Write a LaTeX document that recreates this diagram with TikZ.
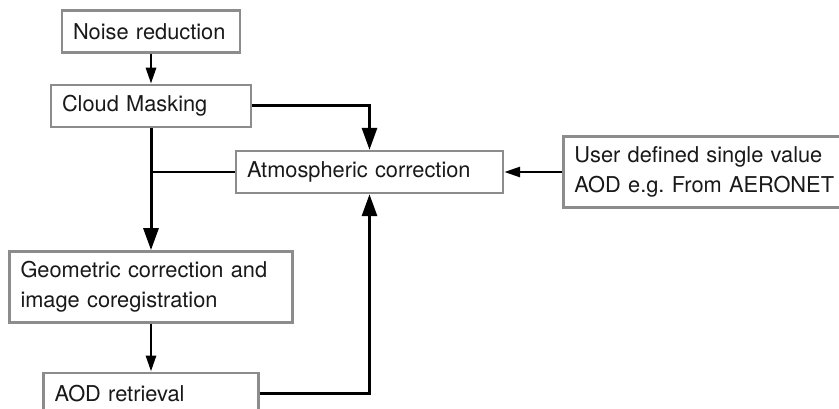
\documentclass[tikz,border=0pt]{standalone}
\usepackage{fontspec}
\setmainfont{TeX Gyre Heros}
\usetikzlibrary{arrows.meta,positioning}
\frenchspacing

\begin{document}
\begin{tikzpicture}[x=0.5pt,y=0.5pt,font=\fontsize{10.9}{15}\selectfont,
 caja/.style={draw=black!45,line width=1.2pt,fill=white,text=black!90,align=left,inner xsep=5.5pt,inner ysep=5pt,minimum height=21pt},
 flecha/.style={-{Triangle[length=8pt,width=5pt]},line width=1.4pt},
 flechalarga/.style={-{Triangle[length=11pt,width=7.5pt]},line width=1.5pt}]
\useasboundingbox (0,0) rectangle (839,-408);
\node[caja,text width=78pt] (ruido) at (151,-31.5) {Noise reduction};
\node[caja,text width=89pt,below=15pt of ruido] (nubes) {Cloud Masking};
\node[caja,text width=130.5pt,below=61pt of nubes] (geom) {Geometric correction and\\image coregistration};
\node[caja,text width=96.5pt,below=24pt of geom] (aod) {AOD retrieval};
\node[caja,text width=122.5pt] (atmos) at (369.5,-172) {Atmospheric correction};
\node[caja,text width=133pt,right=29pt of atmos] (usuario) {User defined single value\\AOD e.g. From AERONET};
\draw[flecha] (ruido)--(nubes);
\draw[flechalarga] (nubes)--(geom);
\draw[flecha] (geom)--(aod);
\draw[line width=1.4pt] (atmos.west)--(atmos.west-|nubes.south);
\draw[flechalarga] (nubes.east)-|(atmos.north);
\draw[flechalarga] (aod.east)-|(atmos.south);
\draw[flecha] (usuario)--(atmos);
\end{tikzpicture}
\end{document}
